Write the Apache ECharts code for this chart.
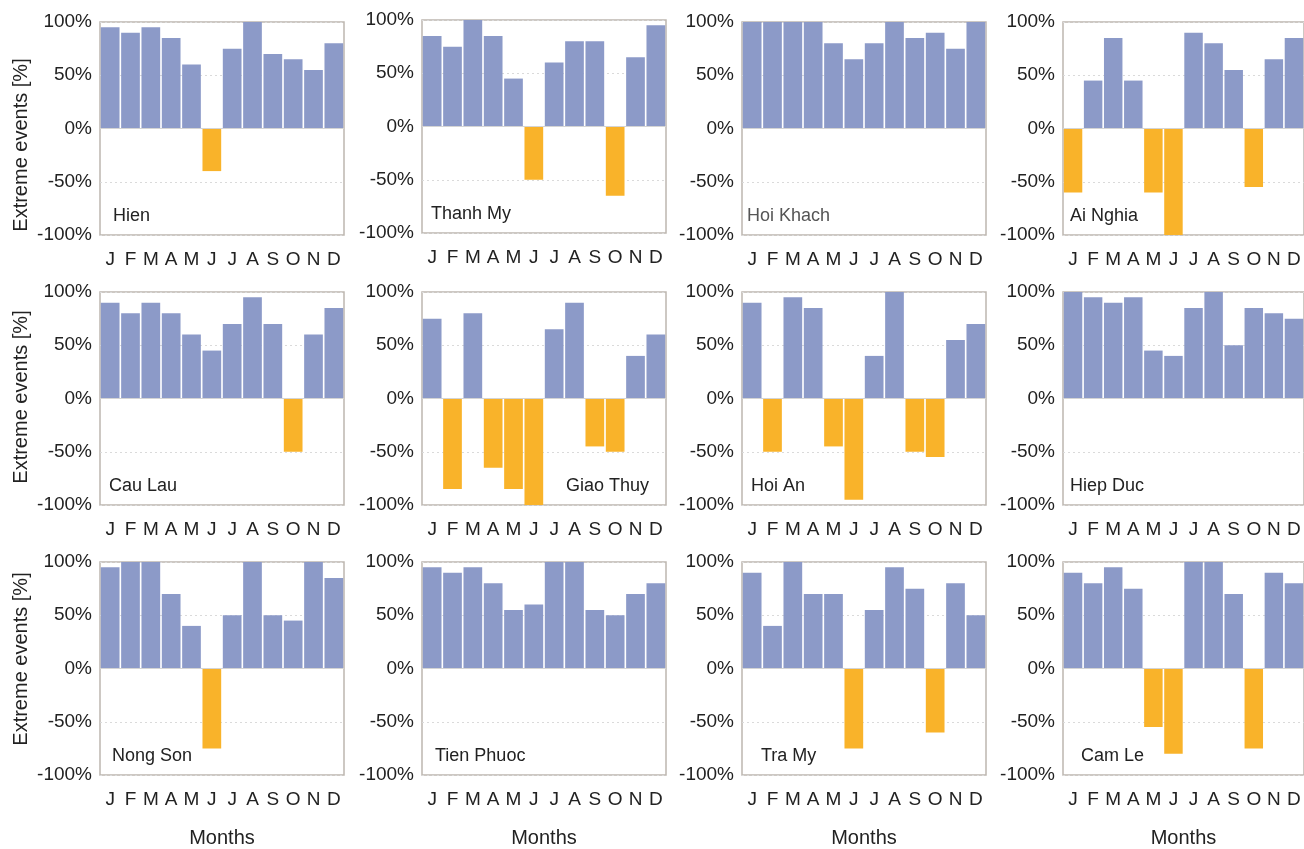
<!DOCTYPE html>
<html>
<head>
<meta charset="utf-8">
<script src="https://cdn.jsdelivr.net/npm/echarts@6/dist/echarts.min.js"></script>
<style>
  html, body { margin: 0; padding: 0; background: #ffffff; }
  #chart { width: 1304px; height: 849px; }
</style>
</head>
<body>
<div id="chart"></div>
<script>
// Monthly share of extreme events per station (positive = wet, negative = dry), in %
const months = ['J', 'F', 'M', 'A', 'M', 'J', 'J', 'A', 'S', 'O', 'N', 'D'];
const yTicks = [-100, -50, 0, 50, 100];

const stations = ['Hien', 'Thanh My', 'Hoi Khach', 'Ai Nghia',
                  'Cau Lau', 'Giao Thuy', 'Hoi An', 'Hiep Duc',
                  'Nong Son', 'Tien Phuoc', 'Tra My', 'Cam Le'];

const hien      = [95, 90, 95, 85, 60, -40, 75, 100, 70, 65, 55, 80];
const thanhMy   = [85, 75, 100, 85, 45, -50, 60, 80, 80, -65, 65, 95];
const hoiKhach  = [100, 100, 100, 100, 80, 65, 80, 100, 85, 90, 75, 100];
const aiNghia   = [-60, 45, 85, 45, -60, -100, 90, 80, 55, -55, 65, 85];
const cauLau    = [90, 80, 90, 80, 60, 45, 70, 95, 70, -50, 60, 85];
const giaoThuy  = [75, -85, 80, -65, -85, -100, 65, 90, -45, -50, 40, 60];
const hoiAn     = [90, -50, 95, 85, -45, -95, 40, 100, -50, -55, 55, 70];
const hiepDuc   = [100, 95, 90, 95, 45, 40, 85, 100, 50, 85, 80, 75];
const nongSon   = [95, 100, 100, 70, 40, -75, 50, 100, 50, 45, 100, 85];
const tienPhuoc = [95, 90, 95, 80, 55, 60, 100, 100, 55, 50, 70, 80];
const traMy     = [90, 40, 100, 70, 70, -75, 55, 95, 75, -60, 80, 50];
const camLe     = [90, 80, 95, 75, -55, -80, 100, 100, 70, -75, 90, 80];

const stationValues = [hien, thanhMy, hoiKhach, aiNghia,
                       cauLau, giaoThuy, hoiAn, hiepDuc,
                       nongSon, tienPhuoc, traMy, camLe];

// Layout of the 4 x 3 panel grid (pixels)
const colLeft = [100, 422, 742, 1063];
const rowTop = [22, 292, 562];
const panelW = 244;
const panelH = 213;
// vertical centre of the rotated y-axis title in each row
const yTitleCenter = [145, 397, 659];

const BLUE = '#8C9AC8';
const ORANGE = '#F9B32A';
const FRAME = '#BDB7B0';
const FONT = '"Liberation Sans", Arial, sans-serif';

// Station name placement inside each panel: [dx from left, align]
const nameSpot = [
  [13, 'left'], [9, 'left'], [5, 'left'], [7, 'left'],
  [9, 'left'], [null, 'right'], [9, 'left'], [7, 'left'],
  [12, 'left'], [13, 'left'], [19, 'left'], [18, 'left']
];

const grids = [], xAxes = [], yAxes = [], series = [], titles = [], graphics = [];

stations.forEach((name, i) => {
  const r = Math.floor(i / 4), c = i % 4;
  const top = (r === 0 && c === 1) ? rowTop[r] - 2 : rowTop[r];
  const left = colLeft[c];

  grids.push({
    left: left, top: top, width: panelW, height: panelH,
    show: true, borderColor: FRAME, borderWidth: 1.5, backgroundColor: '#ffffff'
  });

  xAxes.push({
    type: 'category', gridIndex: i, data: months,
    axisLine: { show: false, onZero: false },
    axisTick: { show: false },
    axisLabel: { color: '#222', fontSize: 19, fontFamily: FONT, margin: 15, interval: 0 },
    name: r === 2 ? 'Months' : '',
    nameLocation: 'middle', nameGap: 53,
    nameTextStyle: { color: '#222', fontSize: 20, fontFamily: FONT }
  });

  yAxes.push({
    type: 'value', gridIndex: i, min: yTicks[0], max: yTicks[yTicks.length - 1], interval: 50,
    axisLine: { show: false }, axisTick: { show: false },
    axisLabel: { color: '#222', fontSize: 19, fontFamily: FONT, margin: 8,
                 formatter: v => v + '%' },
    splitLine: { show: true, lineStyle: { color: '#DADADA', type: [2, 3], width: 1 } }
  });

  series.push({
    type: 'bar', xAxisIndex: i, yAxisIndex: i,
    data: stationValues[i],
    barCategoryGap: '8%',
    itemStyle: { color: p => (p.value < 0 ? ORANGE : BLUE) },
    silent: true,
    markLine: {
      silent: true, symbol: 'none', label: { show: false },
      lineStyle: { color: '#D4D4D4', type: 'solid', width: 1 },
      data: [{ yAxis: 0 }]
    },
    z: 3
  });

  const spot = nameSpot[i];
  const textTop = top + panelH - 28;
  const t = {
    text: name,
    top: textTop,
    textStyle: { color: name === 'Hoi Khach' ? '#555' : '#222', fontSize: 18,
                 fontWeight: 'normal', fontFamily: FONT },
    padding: 0
  };
  if (spot[1] === 'right') {
    t.right = 1304 - (left + panelW) + 17;
  } else {
    t.left = left + spot[0];
  }
  titles.push(t);
});

// y-axis titles on the left column
yTitleCenter.forEach(cy => {
  graphics.push({
    type: 'text', x: 21, y: cy, rotation: Math.PI / 2,
    style: { text: 'Extreme events [%]', fill: '#222', font: '20px ' + FONT,
             align: 'center', verticalAlign: 'middle' }
  });
});

const chart = echarts.init(document.getElementById('chart'), null, { renderer: 'canvas' });
chart.setOption({
  animation: false,
  backgroundColor: '#ffffff',
  title: titles,
  grid: grids,
  xAxis: xAxes,
  yAxis: yAxes,
  series: series,
  graphic: graphics
});
</script>
</body>
</html>
